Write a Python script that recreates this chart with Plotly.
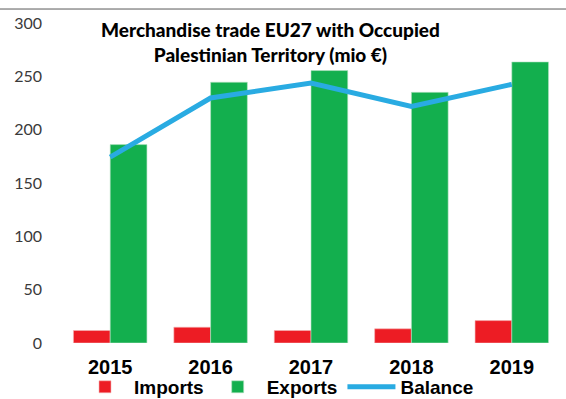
import plotly.graph_objects as go

# EU27 merchandise trade with the Occupied Palestinian Territory, million EUR
years = ["2015", "2016", "2017", "2018", "2019"]
imports = [11.7, 14.8, 11.7, 13.3, 21.0]
exports = [186.0, 244.5, 255.4, 235.0, 263.5]
balance = [174.3, 229.7, 243.7, 221.7, 242.5]

y_ticks = [0, 50, 100, 150, 200, 250, 300]

RED = "#ED1C24"
GREEN = "#13AF4E"
BLUE = "#29ABE2"

fig = go.Figure()
fig.add_trace(go.Bar(
    x=years, y=imports, name="Imports",
    marker=dict(color=RED, line=dict(color="#F4B5B5", width=0.6)),
))
fig.add_trace(go.Bar(
    x=years, y=exports, name="Exports",
    marker=dict(color=GREEN, line=dict(color="#B9E2C6", width=0.6)),
))
fig.add_trace(go.Scatter(
    x=years, y=balance, name="Balance", mode="lines",
    line=dict(color=BLUE, width=5),
))

W, H = 566, 399
L, R, T, B = 60, 4, 23, 55.5
plot_w = W - L - R
plot_h = H - T - B

fig.update_layout(
    width=W, height=H,
    margin=dict(l=L, r=R, t=T, b=B, pad=0, autoexpand=False),
    paper_bgcolor="white", plot_bgcolor="white",
    barmode="group", bargap=0.268, bargroupgap=0,
    showlegend=True,
    legend=dict(
        orientation="h", x=(277.5 - L) / plot_w, xanchor="center",
        y=(H - B - 387.5) / plot_h, yanchor="middle",
        font=dict(family="Liberation Sans, Arial", size=19, color="#000000",
                  weight="bold"),
        itemwidth=48, tracegroupgap=0, bgcolor="rgba(0,0,0,0)",
        traceorder="normal",
    ),
    xaxis=dict(
        type="category", showgrid=False, showline=False, ticks="",
        tickfont=dict(family="Liberation Sans, Arial", size=20, color="#000000",
                      weight="bold"),
        ticklabelstandoff=10, automargin=False,
    ),
    yaxis=dict(
        range=[0, 300], tickvals=y_ticks, showgrid=False, showline=False,
        zeroline=False, ticks="",
        tickfont=dict(family="Lato, Calibri, sans-serif", size=16, color="#3A3A3A"),
        ticklabelstandoff=17, automargin=False,
    ),
    annotations=[dict(
        text="Merchandise trade EU27 with Occupied<br>Palestinian Territory (mio €)",
        xref="paper", yref="paper",
        x=(270 - L) / plot_w, y=(H - B - 42) / plot_h,
        xanchor="center", yanchor="middle", showarrow=False,
        font=dict(family="Lato, Calibri, sans-serif", size=19, color="#000000",
                  weight=900),
        align="center",
    )],
    shapes=[dict(
        type="line", xref="paper", yref="paper",
        x0=-L / plot_w, x1=(W - L) / plot_w,
        y0=(H - B - 9) / plot_h, y1=(H - B - 9) / plot_h,
        line=dict(color="#5A5A5A", width=1),
    )],
)

fig.write_html("out.html")
